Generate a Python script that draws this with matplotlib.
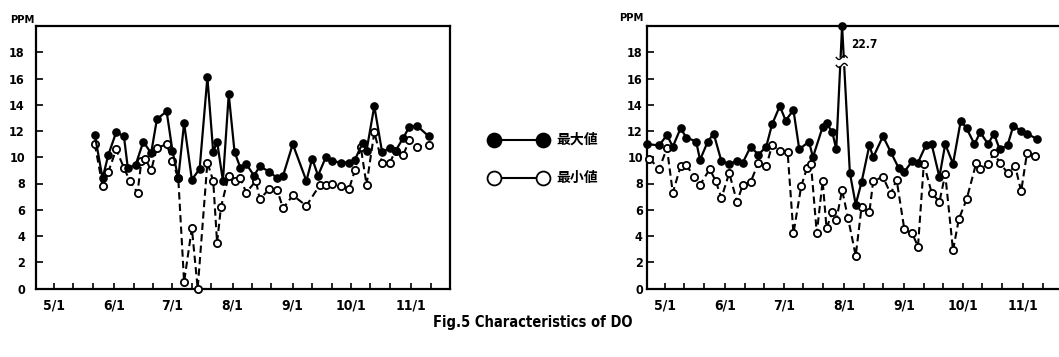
import numpy as np
import matplotlib
matplotlib.use("Agg")
import matplotlib.pyplot as plt
from matplotlib.lines import Line2D

# x values: days counted from May 1
month_labels = ["5/1", "6/1", "7/1", "8/1", "9/1", "10/1", "11/1"]
month_days = [0, 31, 61, 92, 123, 153, 184]

left_max_days = [21, 25, 28, 32, 36, 38, 42, 46, 50, 53, 58, 61, 64, 67, 71, 75, 79, 82, 84, 87,
                 90, 93, 96, 99, 103, 106, 111, 115, 118, 123, 130, 133, 136, 140, 143, 148, 152,
                 155, 159, 161, 165, 169, 173, 176, 180, 183, 187, 193]
left_max_vals = [11.7, 8.4, 10.2, 11.9, 11.6, 9.2, 9.4, 11.2, 10.3, 12.9, 13.5, 10.5, 8.4, 12.6,
                 8.3, 9.1, 16.1, 10.4, 11.2, 8.2, 14.8, 10.4, 9.2, 9.5, 8.6, 9.3, 8.9, 8.4, 8.6,
                 11.0, 8.2, 9.9, 8.6, 10.0, 9.7, 9.6, 9.6, 9.8, 11.1, 10.5, 13.9, 10.4, 10.7,
                 10.5, 11.5, 12.3, 12.4, 11.6]

left_min_days = [21, 25, 28, 32, 36, 39, 43, 45, 47, 50, 53, 58, 61, 64, 67, 71, 74, 79, 82, 84,
                 86, 90, 93, 96, 99, 104, 106, 111, 115, 118, 123, 130, 137, 140, 143, 148, 152,
                 155, 158, 161, 165, 169, 173, 176, 180, 183, 187, 193]
left_min_vals = [11.0, 7.8, 8.9, 10.6, 9.2, 8.2, 7.3, 9.7, 9.9, 9.0, 10.7, 11.0, 9.7, 8.4, 0.5,
                 4.6, 0.0, 9.6, 8.2, 3.5, 6.2, 8.6, 8.2, 8.4, 7.3, 8.2, 6.8, 7.6, 7.5, 6.1, 7.1,
                 6.3, 7.9, 7.9, 8.0, 7.8, 7.6, 9.0, 10.8, 7.9, 11.9, 9.6, 9.6, 10.5, 10.2, 11.3,
                 10.8, 10.9]

right_max_days = [-9, -3, 1, 4, 8, 11, 16, 18, 22, 25, 29, 33, 37, 40, 44, 48, 52, 55, 59, 62,
                  66, 69, 74, 76, 81, 83, 86, 88, 91, 95, 98, 101, 105, 107, 112, 116, 120, 123,
                  127, 130, 134, 137, 141, 144, 148, 152, 155, 159, 162, 166, 169, 172, 176,
                  179, 183, 186, 191]
right_max_vals = [11.0, 10.9, 11.7, 10.8, 12.2, 11.5, 11.2, 9.8, 11.2, 11.8, 9.7, 9.5, 9.7, 9.6,
                  10.8, 10.2, 10.8, 12.5, 13.9, 12.8, 13.6, 10.6, 11.2, 10.0, 12.3, 12.6, 11.9,
                  10.6, 22.7, 8.8, 6.4, 8.1, 10.9, 10.0, 11.6, 10.4, 9.2, 8.9, 9.7, 9.6, 10.9,
                  11.0, 8.5, 11.0, 9.5, 12.8, 12.2, 11.0, 11.9, 11.0, 11.8, 10.6, 10.9, 12.4,
                  12.0, 11.8, 11.4]

right_min_days = [-8, -3, 1, 4, 8, 11, 15, 18, 23, 26, 29, 33, 37, 40, 44, 48, 52, 55, 59, 63,
                  66, 70, 73, 75, 78, 81, 83, 86, 88, 91, 94, 98, 101, 105, 107, 112, 116, 119,
                  123, 127, 130, 133, 137, 141, 144, 148, 151, 155, 160, 162, 166, 169, 172,
                  176, 180, 183, 186, 190]
right_min_vals = [9.9, 9.1, 10.7, 7.3, 9.3, 9.4, 8.5, 7.9, 9.1, 8.2, 6.9, 8.8, 6.6, 7.9, 8.1,
                  9.6, 9.3, 10.9, 10.5, 10.4, 4.2, 7.8, 9.2, 9.5, 4.2, 8.2, 4.6, 5.8, 5.2, 7.5,
                  5.4, 2.5, 6.2, 5.8, 8.2, 8.5, 7.2, 8.3, 4.5, 4.2, 3.2, 9.5, 7.3, 6.6, 8.7, 2.9,
                  5.3, 6.8, 9.6, 9.1, 9.5, 10.3, 9.6, 8.8, 9.3, 7.4, 10.3, 10.1]

legend_labels = ["最大値", "最小値"]
y_unit = "PPM"
caption = "Fig.5 Characteristics of DO"
y_top = 20

W, H = 1059, 357
fig = plt.figure(figsize=(W / 100, H / 100), dpi=100)

num_font = dict(family=["DejaVu Sans"], stretch="condensed", weight="bold")


def px_axes(x0, y0, x1, y1):
    return fig.add_axes([x0 / W, 1 - y1 / H, (x1 - x0) / W, (y1 - y0) / H])


def style_axes(ax, xlim, ypad):
    ax.set_xlim(*xlim)
    ax.set_ylim(0, y_top)
    ax.set_yticks(np.arange(0, 19, 2))
    ax.set_yticklabels([str(v) for v in range(0, 19, 2)], fontsize=9, **num_font)
    minor = [m + k for m in month_days for k in (10, 20)]
    ax.set_xticks(month_days)
    ax.set_xticklabels(month_labels, fontsize=10, **num_font)
    ax.set_xticks(minor, minor=True)
    ax.tick_params(axis="x", which="both", direction="in", length=4, width=1.2, pad=7)
    ax.tick_params(axis="y", direction="in", length=5, width=1.2, pad=ypad)
    for s in ax.spines.values():
        s.set_linewidth(1.6)


def draw_series(ax, mx_d, mx_v, mn_d, mn_v):
    ax.plot(mn_d, mn_v, color="black", lw=1.5, ls=(0, (3.5, 2)), marker="o", ms=5.2,
            mfc="white", mec="black", mew=1.3, clip_on=False, zorder=3)
    ax.plot(mx_d, np.minimum(mx_v, y_top), color="black", lw=1.6, marker="o", ms=5.2,
            mfc="black", mec="black", clip_on=False, zorder=4)


# Left panel
axL = px_axes(36, 26, 450, 288.5)
style_axes(axL, (-9.3, 193.4), 8)
draw_series(axL, left_max_days, left_max_vals, left_min_days, left_min_vals)

# Right panel
axR = px_axes(647, 26, 1062, 288.5)
style_axes(axR, (-9.25, 192.8), 3)
draw_series(axR, right_max_days, right_max_vals, right_min_days, right_min_vals)

# off-scale value and break mark
imax = int(np.argmax(right_max_vals))
xd = right_max_days[imax]
axR.text(xd + 4.5, 18.3, f"{right_max_vals[imax]}", fontsize=8.5, **num_font)
x0b, x1b = xd - 3.0, xd + 2.6
axR.fill_between([x0b + 0.4, x1b - 0.4], 17.05, 17.55, color="white", zorder=5)
tt = np.linspace(-1, 1, 40)
for yb in (17.6, 17.0):
    axR.plot(x0b + (x1b - x0b) * (tt + 1) / 2, yb + 0.15 * np.sin(np.pi * tt), color="black",
             lw=1.0, zorder=6)

# PPM unit labels
fig.text(10 / W, 1 - 20 / H, y_unit, fontsize=8, va="center", ha="left", **num_font)
fig.text(619 / W, 1 - 18 / H, y_unit, fontsize=8, va="center", ha="left", **num_font)

# Legend (drawn manually)
cjk = ["Noto Sans CJK JP", "DejaVu Sans"]
for yy, face, lab in ((140, "black", legend_labels[0]), (178, "white", legend_labels[1])):
    fig.add_artist(Line2D([494 / W, 543 / W], [1 - yy / H, 1 - yy / H], transform=fig.transFigure,
                          color="black", lw=1.5, marker="o", ms=10, mfc=face, mec="black", mew=1.3))
    fig.text(556 / W, 1 - yy / H, lab, fontsize=10, va="center", ha="left", family=cjk,
             weight="bold")

# Caption
fig.text(533 / W, 1 - 322 / H, caption, fontsize=10.5, ha="center", va="center", **num_font)

fig.savefig("out.png", dpi=100)
